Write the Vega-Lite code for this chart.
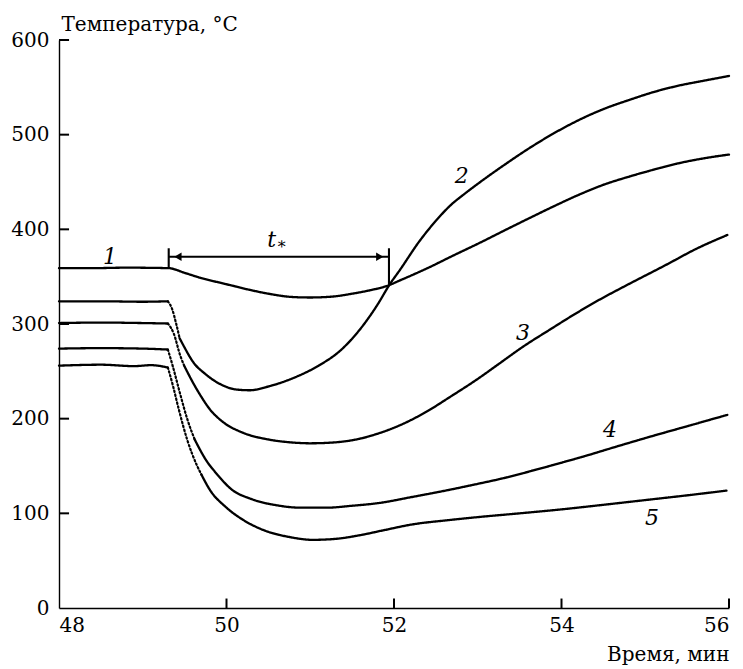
{
  "$schema": "https://vega.github.io/schema/vega-lite/v6.json",
  "width": 670,
  "height": 568,
  "autosize": {"type": "none"},
  "padding": {"left": 59, "top": 40, "right": 14, "bottom": 61},
  "background": "white",
  "config": {
    "view": {"stroke": null},
    "font": "DejaVu Serif",
    "axis": {
      "grid": false,
      "domainColor": "black",
      "domainWidth": 1.4,
      "ticks": false,
      "labelColor": "black",
      "labelFontSize": 20,
      "labelFont": "DejaVu Serif",
      "titleFont": "DejaVu Serif",
      "titleFontSize": 20,
      "titleFontWeight": "normal",
      "titleColor": "black"
    }
  },
  "datasets": {
    "curves": [
      {"g": "1", "s": "solid", "t": 48.0, "T": 359},
      {"g": "1", "s": "solid", "t": 48.4, "T": 359},
      {"g": "1", "s": "solid", "t": 48.8, "T": 359.5},
      {"g": "1", "s": "solid", "t": 49.31, "T": 359},
      {"g": "1", "s": "solid", "t": 49.5, "T": 354},
      {"g": "1", "s": "solid", "t": 49.68, "T": 349},
      {"g": "1", "s": "solid", "t": 50.0, "T": 342},
      {"g": "1", "s": "solid", "t": 50.28, "T": 336},
      {"g": "1", "s": "solid", "t": 50.5, "T": 332},
      {"g": "1", "s": "solid", "t": 50.79, "T": 328.5},
      {"g": "1", "s": "solid", "t": 51.0, "T": 328},
      {"g": "1", "s": "solid", "t": 51.27, "T": 329},
      {"g": "1", "s": "solid", "t": 51.5, "T": 332},
      {"g": "1", "s": "solid", "t": 51.68, "T": 335},
      {"g": "1", "s": "solid", "t": 51.94, "T": 341},
      {"g": "1", "s": "solid", "t": 52.07, "T": 346},
      {"g": "1", "s": "solid", "t": 52.4, "T": 359},
      {"g": "1", "s": "solid", "t": 52.7, "T": 372},
      {"g": "1", "s": "solid", "t": 53.03, "T": 386},
      {"g": "1", "s": "solid", "t": 53.3, "T": 398},
      {"g": "1", "s": "solid", "t": 53.62, "T": 412},
      {"g": "1", "s": "solid", "t": 53.9, "T": 424},
      {"g": "1", "s": "solid", "t": 54.22, "T": 437},
      {"g": "1", "s": "solid", "t": 54.5, "T": 447},
      {"g": "1", "s": "solid", "t": 54.82, "T": 456},
      {"g": "1", "s": "solid", "t": 55.1, "T": 463},
      {"g": "1", "s": "solid", "t": 55.41, "T": 470},
      {"g": "1", "s": "solid", "t": 55.7, "T": 475},
      {"g": "1", "s": "solid", "t": 56.0, "T": 479},

      {"g": "2a", "s": "solid", "t": 48.0, "T": 324},
      {"g": "2a", "s": "solid", "t": 48.5, "T": 324},
      {"g": "2a", "s": "solid", "t": 49.0, "T": 323.5},
      {"g": "2a", "s": "solid", "t": 49.3, "T": 324},
      {"g": "2b", "s": "dot", "t": 49.3, "T": 324},
      {"g": "2b", "s": "dot", "t": 49.35, "T": 316},
      {"g": "2b", "s": "dot", "t": 49.4, "T": 300},
      {"g": "2b", "s": "dot", "t": 49.44, "T": 285},
      {"g": "2c", "s": "solid", "t": 49.44, "T": 285},
      {"g": "2c", "s": "solid", "t": 49.5, "T": 275},
      {"g": "2c", "s": "solid", "t": 49.6, "T": 260},
      {"g": "2c", "s": "solid", "t": 49.75, "T": 247},
      {"g": "2c", "s": "solid", "t": 49.96, "T": 235},
      {"g": "2c", "s": "solid", "t": 50.1, "T": 231},
      {"g": "2c", "s": "solid", "t": 50.28, "T": 230},
      {"g": "2c", "s": "solid", "t": 50.5, "T": 234},
      {"g": "2c", "s": "solid", "t": 50.8, "T": 243},
      {"g": "2c", "s": "solid", "t": 51.1, "T": 256},
      {"g": "2c", "s": "solid", "t": 51.36, "T": 272},
      {"g": "2c", "s": "solid", "t": 51.6, "T": 295},
      {"g": "2c", "s": "solid", "t": 51.8, "T": 320},
      {"g": "2c", "s": "solid", "t": 51.95, "T": 342},
      {"g": "2c", "s": "solid", "t": 52.07, "T": 357},
      {"g": "2c", "s": "solid", "t": 52.3, "T": 387},
      {"g": "2c", "s": "solid", "t": 52.5, "T": 409},
      {"g": "2c", "s": "solid", "t": 52.67, "T": 425},
      {"g": "2c", "s": "solid", "t": 52.85, "T": 438},
      {"g": "2c", "s": "solid", "t": 53.03, "T": 450},
      {"g": "2c", "s": "solid", "t": 53.3, "T": 467},
      {"g": "2c", "s": "solid", "t": 53.62, "T": 486},
      {"g": "2c", "s": "solid", "t": 53.9, "T": 501},
      {"g": "2c", "s": "solid", "t": 54.22, "T": 516},
      {"g": "2c", "s": "solid", "t": 54.5, "T": 527},
      {"g": "2c", "s": "solid", "t": 54.82, "T": 537},
      {"g": "2c", "s": "solid", "t": 55.1, "T": 545},
      {"g": "2c", "s": "solid", "t": 55.41, "T": 552},
      {"g": "2c", "s": "solid", "t": 55.7, "T": 557},
      {"g": "2c", "s": "solid", "t": 56.0, "T": 562},

      {"g": "3a", "s": "solid", "t": 48.0, "T": 301},
      {"g": "3a", "s": "solid", "t": 48.5, "T": 301.5},
      {"g": "3a", "s": "solid", "t": 49.0, "T": 301},
      {"g": "3a", "s": "solid", "t": 49.3, "T": 300.5},
      {"g": "3b", "s": "dot", "t": 49.3, "T": 300.5},
      {"g": "3b", "s": "dot", "t": 49.37, "T": 290},
      {"g": "3b", "s": "dot", "t": 49.45, "T": 266},
      {"g": "3b", "s": "dot", "t": 49.5, "T": 255},
      {"g": "3c", "s": "solid", "t": 49.5, "T": 255},
      {"g": "3c", "s": "solid", "t": 49.6, "T": 238},
      {"g": "3c", "s": "solid", "t": 49.7, "T": 223},
      {"g": "3c", "s": "solid", "t": 49.8, "T": 210},
      {"g": "3c", "s": "solid", "t": 49.95, "T": 197},
      {"g": "3c", "s": "solid", "t": 50.2, "T": 185},
      {"g": "3c", "s": "solid", "t": 50.5, "T": 178},
      {"g": "3c", "s": "solid", "t": 50.76, "T": 175},
      {"g": "3c", "s": "solid", "t": 51.0, "T": 174},
      {"g": "3c", "s": "solid", "t": 51.3, "T": 175},
      {"g": "3c", "s": "solid", "t": 51.6, "T": 179},
      {"g": "3c", "s": "solid", "t": 51.8, "T": 184},
      {"g": "3c", "s": "solid", "t": 52.07, "T": 193},
      {"g": "3c", "s": "solid", "t": 52.4, "T": 208},
      {"g": "3c", "s": "solid", "t": 52.67, "T": 223},
      {"g": "3c", "s": "solid", "t": 53.0, "T": 242},
      {"g": "3c", "s": "solid", "t": 53.27, "T": 259},
      {"g": "3c", "s": "solid", "t": 53.54, "T": 276},
      {"g": "3c", "s": "solid", "t": 53.86, "T": 294},
      {"g": "3c", "s": "solid", "t": 54.15, "T": 310},
      {"g": "3c", "s": "solid", "t": 54.46, "T": 326},
      {"g": "3c", "s": "solid", "t": 54.8, "T": 342},
      {"g": "3c", "s": "solid", "t": 55.26, "T": 363},
      {"g": "3c", "s": "solid", "t": 55.6, "T": 379},
      {"g": "3c", "s": "solid", "t": 55.98, "T": 394},

      {"g": "4a", "s": "solid", "t": 48.0, "T": 274},
      {"g": "4a", "s": "solid", "t": 48.5, "T": 274.5},
      {"g": "4a", "s": "solid", "t": 49.0, "T": 274},
      {"g": "4a", "s": "solid", "t": 49.3, "T": 273},
      {"g": "4b", "s": "dot", "t": 49.3, "T": 273},
      {"g": "4b", "s": "dot", "t": 49.36, "T": 255},
      {"g": "4b", "s": "dot", "t": 49.45, "T": 225},
      {"g": "4b", "s": "dot", "t": 49.53, "T": 200},
      {"g": "4b", "s": "dot", "t": 49.62, "T": 178},
      {"g": "4c", "s": "solid", "t": 49.62, "T": 178},
      {"g": "4c", "s": "solid", "t": 49.75, "T": 157},
      {"g": "4c", "s": "solid", "t": 49.9, "T": 140},
      {"g": "4c", "s": "solid", "t": 50.05, "T": 126},
      {"g": "4c", "s": "solid", "t": 50.3, "T": 115},
      {"g": "4c", "s": "solid", "t": 50.6, "T": 108.5},
      {"g": "4c", "s": "solid", "t": 50.88, "T": 106},
      {"g": "4c", "s": "solid", "t": 51.2, "T": 106},
      {"g": "4c", "s": "solid", "t": 51.5, "T": 108},
      {"g": "4c", "s": "solid", "t": 51.83, "T": 111},
      {"g": "4c", "s": "solid", "t": 52.2, "T": 117},
      {"g": "4c", "s": "solid", "t": 52.67, "T": 125},
      {"g": "4c", "s": "solid", "t": 52.94, "T": 130},
      {"g": "4c", "s": "solid", "t": 53.3, "T": 137},
      {"g": "4c", "s": "solid", "t": 53.65, "T": 145},
      {"g": "4c", "s": "solid", "t": 53.98, "T": 153},
      {"g": "4c", "s": "solid", "t": 54.3, "T": 161},
      {"g": "4c", "s": "solid", "t": 54.6, "T": 169},
      {"g": "4c", "s": "solid", "t": 55.06, "T": 181},
      {"g": "4c", "s": "solid", "t": 55.5, "T": 192},
      {"g": "4c", "s": "solid", "t": 55.98, "T": 204},

      {"g": "5a", "s": "solid", "t": 48.0, "T": 256},
      {"g": "5a", "s": "solid", "t": 48.5, "T": 257},
      {"g": "5a", "s": "solid", "t": 48.9, "T": 255.5},
      {"g": "5a", "s": "solid", "t": 49.1, "T": 256.5},
      {"g": "5a", "s": "solid", "t": 49.3, "T": 254},
      {"g": "5b", "s": "dot", "t": 49.3, "T": 254},
      {"g": "5b", "s": "dot", "t": 49.36, "T": 235},
      {"g": "5b", "s": "dot", "t": 49.43, "T": 210},
      {"g": "5b", "s": "dot", "t": 49.53, "T": 178},
      {"g": "5b", "s": "dot", "t": 49.65, "T": 150},
      {"g": "5b", "s": "dot", "t": 49.7, "T": 141},
      {"g": "5c", "s": "solid", "t": 49.7, "T": 141},
      {"g": "5c", "s": "solid", "t": 49.8, "T": 125},
      {"g": "5c", "s": "solid", "t": 50.0, "T": 106},
      {"g": "5c", "s": "solid", "t": 50.2, "T": 93},
      {"g": "5c", "s": "solid", "t": 50.45, "T": 82},
      {"g": "5c", "s": "solid", "t": 50.75, "T": 75},
      {"g": "5c", "s": "solid", "t": 51.03, "T": 72},
      {"g": "5c", "s": "solid", "t": 51.3, "T": 73},
      {"g": "5c", "s": "solid", "t": 51.6, "T": 77},
      {"g": "5c", "s": "solid", "t": 51.87, "T": 82},
      {"g": "5c", "s": "solid", "t": 52.2, "T": 88},
      {"g": "5c", "s": "solid", "t": 52.67, "T": 93},
      {"g": "5c", "s": "solid", "t": 53.0, "T": 96},
      {"g": "5c", "s": "solid", "t": 53.5, "T": 100},
      {"g": "5c", "s": "solid", "t": 53.98, "T": 104},
      {"g": "5c", "s": "solid", "t": 54.5, "T": 109},
      {"g": "5c", "s": "solid", "t": 55.0, "T": 114},
      {"g": "5c", "s": "solid", "t": 55.5, "T": 119},
      {"g": "5c", "s": "solid", "t": 55.97, "T": 124}
    ],
    "labels": [
      {"label": "1", "t": 48.61, "T": 371},
      {"label": "2", "t": 52.81, "T": 456},
      {"label": "3", "t": 53.54, "T": 291},
      {"label": "4", "t": 54.58, "T": 188},
      {"label": "5", "t": 55.08, "T": 95},
      {"label": "t", "t": 50.54, "T": 389}
    ],
    "star": [{"label": "∗", "t": 50.66, "T": 385}],
    "segs": [
      {"k": "arrow", "t": 49.31, "t2": 51.94, "T": 371, "T2": 371},
      {"k": "arrow", "t": 49.31, "t2": 49.31, "T": 359, "T2": 380},
      {"k": "arrow", "t": 51.94, "t2": 51.94, "T": 341, "T2": 380},
      {"k": "tick", "t": 50, "t2": 50, "T": 0, "T2": 10},
      {"k": "tick", "t": 52, "t2": 52, "T": 0, "T2": 10},
      {"k": "tick", "t": 54, "t2": 54, "T": 0, "T2": 10},
      {"k": "tick", "t": 56, "t2": 56, "T": 0, "T2": 10},
      {"k": "tick", "t": 48, "t2": 48.12, "T": 100, "T2": 100},
      {"k": "tick", "t": 48, "t2": 48.12, "T": 200, "T2": 200},
      {"k": "tick", "t": 48, "t2": 48.12, "T": 300, "T2": 300},
      {"k": "tick", "t": 48, "t2": 48.12, "T": 400, "T2": 400},
      {"k": "tick", "t": 48, "t2": 48.12, "T": 500, "T2": 500},
      {"k": "tick", "t": 48, "t2": 48.12, "T": 600, "T2": 600}
    ],
    "heads": [
      {"t": 49.42, "T": 371, "shape": "triangle-left"},
      {"t": 51.83, "T": 371, "shape": "triangle-right"}
    ]
  },
  "layer": [
    {
      "data": {"name": "curves"},
      "mark": {"type": "line", "color": "black", "interpolate": "monotone", "strokeCap": "round"},
      "encoding": {
        "x": {
          "field": "t", "type": "quantitative",
          "scale": {"domain": [48, 56], "nice": false, "zero": false},
          "axis": {
            "values": [48, 50, 52, 54, 56],
            "format": "d",
            "labelPadding": 7,
            "labelBaseline": "top",
            "title": "Время, мин",
            "titleAnchor": "end",
            "titleAlign": "right",
            "titleBaseline": "alphabetic",
            "titleX": 670,
            "titleY": 52
          }
        },
        "y": {
          "field": "T", "type": "quantitative",
          "scale": {"domain": [0, 600], "nice": false},
          "axis": {
            "values": [0, 100, 200, 300, 400, 500, 600],
            "format": "d",
            "labelPadding": 10,
            "title": "Температура, °C",
            "titleAngle": 0,
            "titleAlign": "left",
            "titleBaseline": "alphabetic",
            "titleX": 2,
            "titleY": -10
          }
        },
        "detail": {"field": "g"},
        "strokeDash": {
          "field": "s", "type": "nominal",
          "scale": {"domain": ["solid", "dot"], "range": [[1, 0], [1.5, 2.5]]},
          "legend": null
        },
        "strokeWidth": {
          "field": "s", "type": "nominal",
          "scale": {"domain": ["solid", "dot"], "range": [2.3, 2.0]},
          "legend": null
        }
      }
    },
    {
      "data": {"name": "segs"},
      "mark": {"type": "rule", "color": "black"},
      "encoding": {
        "x": {"field": "t", "type": "quantitative"},
        "x2": {"field": "t2"},
        "y": {"field": "T", "type": "quantitative"},
        "y2": {"field": "T2"},
        "strokeWidth": {
          "field": "k", "type": "nominal",
          "scale": {"domain": ["arrow", "tick"], "range": [1, 1.4]},
          "legend": null
        }
      }
    },
    {
      "data": {"name": "heads"},
      "mark": {"type": "point", "filled": true, "color": "black", "opacity": 1, "size": 70},
      "encoding": {
        "x": {"field": "t", "type": "quantitative"},
        "y": {"field": "T", "type": "quantitative"},
        "shape": {"field": "shape", "type": "nominal", "scale": null, "legend": null}
      }
    },
    {
      "data": {"name": "labels"},
      "mark": {"type": "text", "font": "DejaVu Serif", "fontStyle": "italic", "fontSize": 22, "color": "black", "baseline": "middle", "align": "center"},
      "encoding": {
        "x": {"field": "t", "type": "quantitative"},
        "y": {"field": "T", "type": "quantitative"},
        "text": {"field": "label"}
      }
    },
    {
      "data": {"name": "star"},
      "mark": {"type": "text", "font": "DejaVu Serif", "fontSize": 16, "color": "black", "baseline": "middle", "align": "center"},
      "encoding": {
        "x": {"field": "t", "type": "quantitative"},
        "y": {"field": "T", "type": "quantitative"},
        "text": {"field": "label"}
      }
    }
  ]
}
